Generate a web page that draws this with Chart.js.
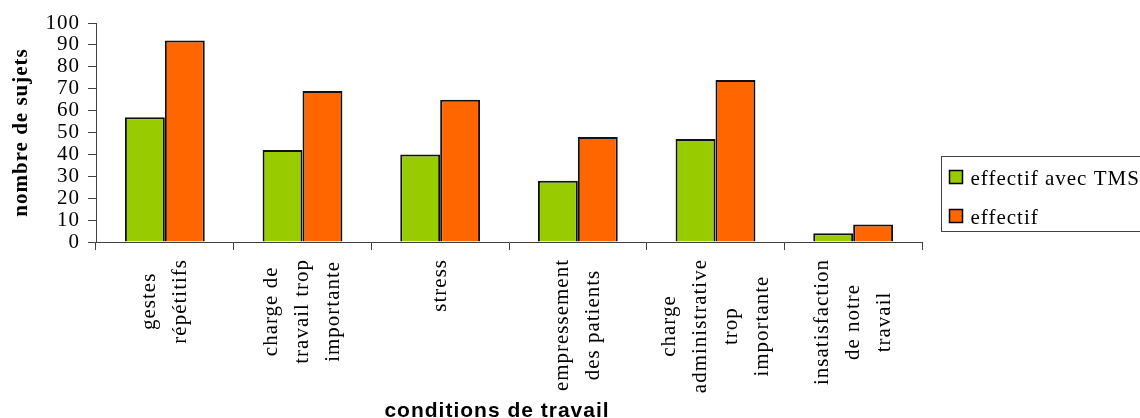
<!DOCTYPE html>
<html>
<head>
<meta charset="utf-8">
<script src="https://cdn.jsdelivr.net/npm/chart.js@4.4.1/dist/chart.umd.min.js"></script>
<style>
  html, body { margin: 0; padding: 0; background: #fff; }
  #wrap { width: 1140px; height: 418px; }
</style>
</head>
<body>
<div id="wrap"><canvas id="chart-conditions"></canvas></div>
<script>
// conditions de travail vs nombre de sujets
const categories = [
  ['gestes', 'répétitifs'],
  ['charge de', 'travail trop', 'importante'],
  ['stress'],
  ['empressement', 'des patients'],
  ['charge', 'administrative', 'trop', 'importante'],
  ['insatisfaction', 'de notre', 'travail'],
];
const effectifTMS = [57, 42, 40, 28, 47, 4];
const effectif = [92, 69, 65, 48, 74, 8];
const seriesNames = ['effectif avec TMS', 'effectif'];
const seriesColors = ['#99cc00', '#ff6600'];
const yMin = 0, yMax = 100, yStep = 10;
const xTitle = 'conditions de travail';
const yTitle = 'nombre de sujets';

const SERIF = '"Liberation Serif", "Times New Roman", serif';
const SANS = '"Liberation Sans", Arial, sans-serif';

// slightly wide text everywhere, like the old office export
const SpacingPlugin = {
  id: 'spacing',
  beforeDraw(chart) { chart.ctx.letterSpacing = '1px'; },
};

// rotated multi-line category labels, lines centred on each other
const CatLabelPlugin = {
  id: 'catLabels',
  afterDraw(chart) {
    const { ctx, scales: { x } } = chart;
    const top = 259, lineGap = 31;
    ctx.save();
    ctx.letterSpacing = '1px';
    ctx.font = '21px ' + SERIF;
    ctx.fillStyle = '#000';
    ctx.textAlign = 'center';
    ctx.textBaseline = 'middle';
    categories.forEach((lines, i) => {
      const cx = x.getPixelForValue(i);
      const maxW = Math.max(...lines.map(l => ctx.measureText(l).width));
      lines.forEach((line, j) => {
        ctx.save();
        ctx.translate(cx + (j - (lines.length - 1) / 2) * lineGap, top + maxW / 2);
        ctx.rotate(-Math.PI / 2);
        ctx.fillText(line, 0, 0);
        ctx.restore();
      });
    });
    // axis title under the labels
    ctx.font = 'bold 21px ' + SANS;
    ctx.textBaseline = 'alphabetic';
    ctx.fillText(xTitle, 497, 417);
    ctx.restore();
  }
};

// boxed legend sitting right of the plot
const BoxLegendPlugin = {
  id: 'boxLegend',
  afterDraw(chart) {
    const ctx = chart.ctx;
    const left = 941.5, top = 156.5, rowGap = 39;
    ctx.save();
    ctx.letterSpacing = '1px';
    ctx.strokeStyle = '#404040';
    ctx.lineWidth = 1;
    ctx.strokeRect(left, top, 240, 75);
    ctx.font = '21px ' + SERIF;
    ctx.textBaseline = 'alphabetic';
    ctx.textAlign = 'left';
    chart.data.datasets.forEach((ds, i) => {
      const y = top + 14 + i * rowGap;
      ctx.fillStyle = ds.backgroundColor;
      ctx.fillRect(left + 8, y, 13, 13);
      ctx.strokeStyle = '#000';
      ctx.lineWidth = 1.5;
      ctx.strokeRect(left + 8, y, 13, 13);
      ctx.fillStyle = '#000';
      ctx.fillText(ds.label, left + 29, y + 14);
    });
    ctx.restore();
  }
};

new Chart(document.getElementById('chart-conditions'), {
  type: 'bar',
  data: {
    labels: categories,
    datasets: [
      { label: seriesNames[0], data: effectifTMS, backgroundColor: seriesColors[0], borderColor: '#111', borderWidth: 2 },
      { label: seriesNames[1], data: effectif, backgroundColor: seriesColors[1], borderColor: '#111', borderWidth: 2 },
    ]
  },
  options: {
    responsive: true, maintainAspectRatio: false, animation: false,
    layout: { padding: { top: 23, right: 218, left: 0, bottom: 0 } },
    datasets: { bar: { categoryPercentage: 0.58, barPercentage: 1 } },
    plugins: { legend: { display: false }, tooltip: { enabled: false } },
    scales: {
      x: {
        ticks: { display: false },
        grid: { offset: true, drawOnChartArea: false, drawTicks: true, tickLength: 8, color: '#404040' },
        border: { color: '#404040', width: 1 },
        afterFit: s => { s.height = 176; },
      },
      y: {
        min: yMin, max: yMax,
        ticks: { stepSize: yStep, autoSkip: false, color: '#000', padding: 8, font: { family: SERIF, size: 21 } },
        grid: { drawOnChartArea: false, drawTicks: true, tickLength: 8, color: '#404040' },
        border: { color: '#404040', width: 1 },
        title: { display: true, text: yTitle, color: '#000', padding: { top: 9, bottom: 0 }, font: { family: SERIF, size: 21, weight: 'bold' } },
        afterFit: s => { s.width = 96; },
      }
    }
  },
  plugins: [SpacingPlugin, CatLabelPlugin, BoxLegendPlugin],
});
</script>
</body>
</html>
